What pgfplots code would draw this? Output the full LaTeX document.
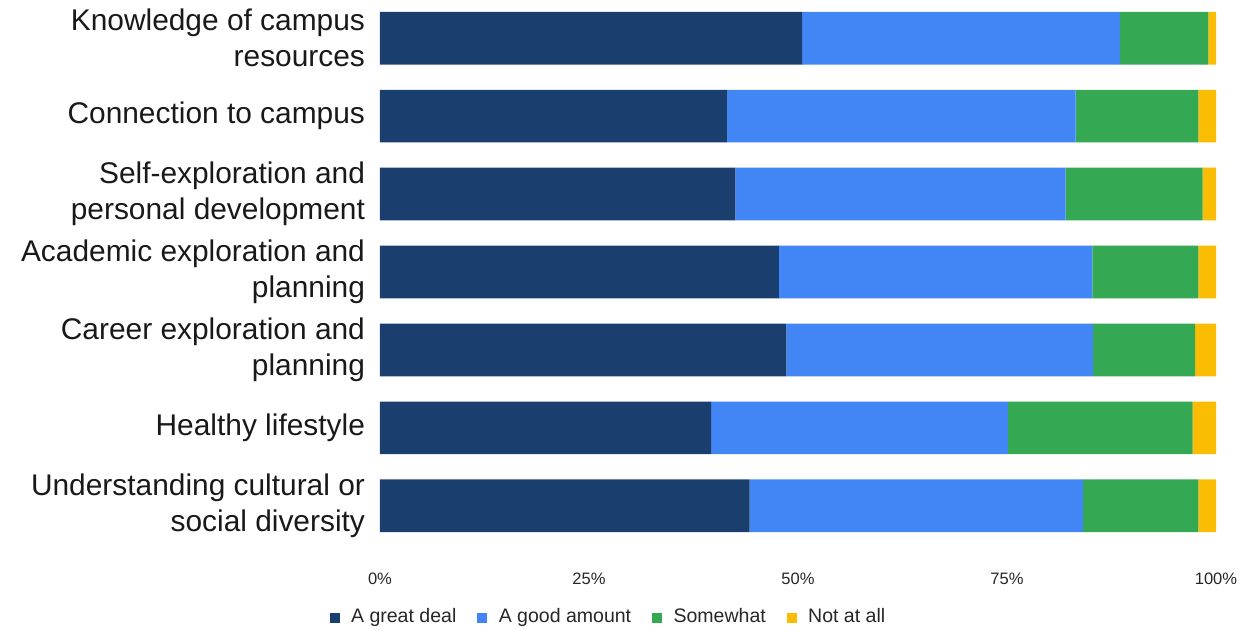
\documentclass[border=0pt]{standalone}
\usepackage{fontspec}
\setmainfont{Liberation Sans}
\usepackage{pgfplots}
\pgfplotsset{compat=1.18}
\definecolor{cgreat}{HTML}{1A3F6F}
\definecolor{cgood}{HTML}{4285F4}
\definecolor{csome}{HTML}{34A853}
\definecolor{cnot}{HTML}{FBBC04}
\pgfplotsset{sqlegend/.style={legend image code/.code={\fill[##1] (0bp,-2.7bp) rectangle (5bp,2.3bp);}}}
\begin{document}
\begin{tikzpicture}
\begin{axis}[
  xbar stacked,
  scale only axis,
  width=418bp, height=261.1bp,
  xmin=0, xmax=100,
  ymin=-0.35, ymax=6.35,
  y dir=reverse,
  bar width=0.676,
  axis line style={draw=none},
  major tick length=0pt,
  xtick={0,25,50,75,100},
  xticklabels={0\%,25\%,50\%,75\%,100\%},
  ytick={0,1,2,3,4,5,6},
  yticklabels={{Knowledge of campus\\resources},{Connection to campus},{Self-exploration and\\personal development},{Academic exploration and\\planning},{Career exploration and\\planning},{Healthy lifestyle},{Understanding cultural or\\social diversity}},
  xticklabel style={font=\fontsize{8.3}{10}\selectfont, text=black!85, yshift=-16.25bp},
  yticklabel style={font=\fontsize{15}{18}\selectfont, align=right, text=black!90, xshift=-4bp},
  legend columns=4,
  legend style={draw=none, fill=none, at={(0.2745,-0.161)}, anchor=center,
    font=\fontsize{9.8}{11}\selectfont, text=black!85,
    /tikz/every odd column/.append style={column sep=3.7bp},
    /tikz/every even column/.append style={column sep=8.5bp}},
]
\addplot[fill=cgreat, draw=none, sqlegend] coordinates {(50.5,0) (41.5,1) (42.5,2) (47.7,3) (48.6,4) (39.6,5) (44.2,6)};
\addplot[fill=cgood, draw=none, sqlegend] coordinates {(38.0,0) (41.7,1) (39.5,2) (37.5,3) (36.7,4) (35.5,5) (39.9,6)};
\addplot[fill=csome, draw=none, sqlegend] coordinates {(10.6,0) (14.7,1) (16.4,2) (12.7,3) (12.2,4) (22.1,5) (13.8,6)};
\addplot[fill=cnot, draw=none, sqlegend] coordinates {(0.9,0) (2.1,1) (1.6,2) (2.1,3) (2.5,4) (2.8,5) (2.1,6)};
\legend{A great deal, A good amount, Somewhat, Not at all}
\end{axis}
\pgfresetboundingbox
\useasboundingbox (-190bp,-48.45bp) rectangle (436.5bp,266.55bp);
\end{tikzpicture}
\end{document}
